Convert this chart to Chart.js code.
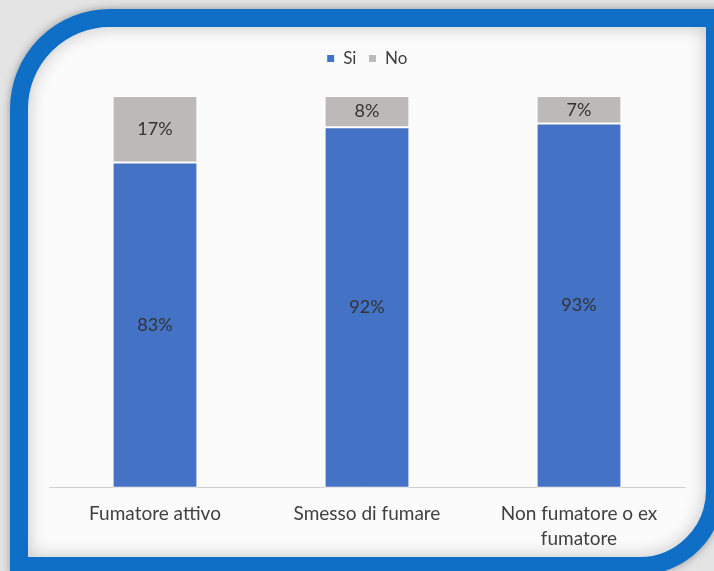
<!DOCTYPE html>
<html>
<head>
<meta charset="utf-8">
<script src="https://cdn.jsdelivr.net/npm/chart.js@4"></script>
<style>
  html, body { margin: 0; padding: 0; width: 714px; height: 571px; overflow: hidden; background: #e4e4e4; }
  /* blue rounded frame with soft panel inside */
  .frame {
    position: absolute; left: 10px; top: 9px; width: 678px; height: 530px;
    border: 18px solid #0f6fc6;
    border-top-left-radius: 100px; border-bottom-right-radius: 85px;
    background: #fbfbfb;
    box-shadow: 0 0 8px rgba(0,0,0,0.35), inset 0 0 18px rgba(0,0,0,0.22);
  }
  #chart { position: absolute; left: 0; top: 0; }
</style>
</head>
<body>
<div class="frame"></div>
<canvas id="chart" width="714" height="571"></canvas>
<script>
const categories = ["Fumatore attivo", "Smesso di fumare", ["Non fumatore o ex", "fumatore"]];
const siValues = [83, 92, 93];
const noValues = [17, 8, 7];

const textFont = "Lato";

// percentage labels in the middle of each segment
const segmentLabels = {
  id: "segmentLabels",
  afterDatasetsDraw(chart) {
    const ctx = chart.ctx;
    ctx.save();
    ctx.font = "18px " + textFont;
    ctx.fillStyle = "#333333";
    ctx.textAlign = "center";
    ctx.textBaseline = "middle";
    chart.data.datasets.forEach((ds, i) => {
      chart.getDatasetMeta(i).data.forEach((bar, j) => {
        ctx.fillText(ds.data[j] + "%", bar.x, (bar.y + bar.base) / 2);
      });
    });
    ctx.restore();
  }
};

// extra room between legend and bars
const legendGap = {
  id: "legendGap",
  beforeInit(chart) {
    const fit = chart.legend.fit;
    chart.legend.fit = function () {
      fit.bind(chart.legend)();
      this.height += 19;
    };
  }
};

new Chart(document.getElementById("chart"), {
  type: "bar",
  data: {
    labels: categories,
    datasets: [
      { label: "Si", data: siValues, backgroundColor: "#4472c4", borderColor: "#ffffff", borderWidth: 1, borderSkipped: false },
      { label: "No", data: noValues, backgroundColor: "#bdb9b9", borderColor: "#ffffff", borderWidth: 1, borderSkipped: false }
    ]
  },
  options: {
    responsive: false,
    animation: false,
    categoryPercentage: 0.8,
    barPercentage: 0.5,
    layout: { padding: { left: 49, right: 29, top: 38, bottom: 14 } },
    plugins: {
      legend: {
        position: "top",
        labels: {
          boxWidth: 8, boxHeight: 8, padding: 12,
          color: "#404040",
          font: { family: textFont, size: 17 }
        }
      },
      tooltip: { enabled: false }
    },
    scales: {
      x: {
        stacked: true,
        grid: { display: false },
        border: { display: true, color: "#d0d0d0" },
        ticks: { color: "#404040", font: { family: textFont, size: 19, lineHeight: 1.35 }, padding: 5 }
      },
      y: {
        stacked: true,
        display: false,
        min: 0, max: 100
      }
    }
  },
  plugins: [segmentLabels, legendGap]
});
</script>
</body>
</html>
